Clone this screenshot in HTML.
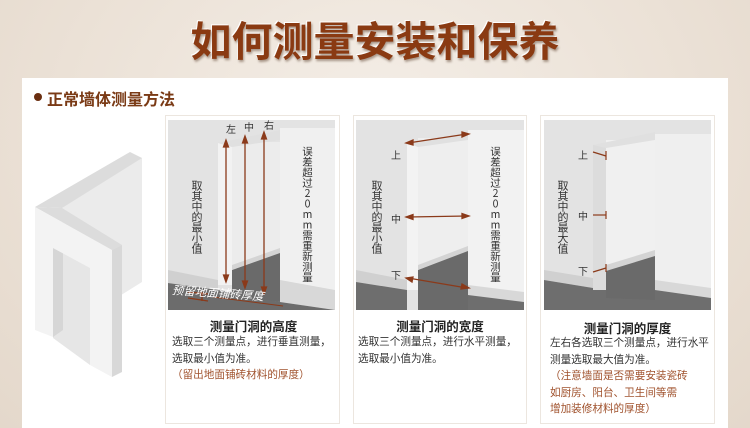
<!DOCTYPE html>
<html><head><meta charset="utf-8">
<style>
*{margin:0;padding:0;box-sizing:border-box}
body{width:750px;height:428px;overflow:hidden;position:relative;background:radial-gradient(ellipse at 50% 30%,#f4eee7 0%,#ebe1d6 60%,#e4d8cb 100%);font-family:"Liberation Sans","Noto Sans CJK SC",sans-serif}
.title{position:absolute;left:0;width:750px;top:8px;text-align:center;font-size:41px;font-weight:bold;color:#8a3a12;letter-spacing:0px;text-shadow:1px 2px 2px rgba(80,50,30,.45),-1px -1px 0 #fff;font-family:"Noto Sans CJK SC",sans-serif}
.panel{position:absolute;left:22px;top:78px;width:706px;height:350px;background:#fff}
.sec{position:absolute;left:47px;top:86px;font-size:16px;font-weight:bold;color:#7a3a15;font-family:"Noto Sans CJK SC",sans-serif}
.dot{position:absolute;left:34px;top:93px;width:8px;height:8px;border-radius:50%;background:#6a2e10}
.card{position:absolute;top:115px;height:309px;border:1px solid #ece6df;background:#fff}
.abs{position:absolute}
.v{position:absolute;writing-mode:vertical-rl;text-orientation:upright;font-size:11px;color:#333;line-height:12px;letter-spacing:-0.5px;font-family:"Noto Sans CJK SC",sans-serif}
.v2{position:absolute;writing-mode:vertical-rl;text-orientation:upright;font-size:10.5px;color:#333;line-height:12px;letter-spacing:0;font-family:"Noto Sans CJK SC",sans-serif}
.lab{position:absolute;font-size:10px;color:#333;font-family:"Noto Sans CJK SC",sans-serif}
.h{position:absolute;font-size:12.5px;font-weight:bold;color:#222;text-align:center;font-family:"Noto Sans CJK SC",sans-serif}
.b{position:absolute;font-size:10.6px;color:#333;line-height:16.5px;font-family:"Noto Sans CJK SC",sans-serif;white-space:nowrap}
.br{color:#a0522d}
</style></head><body>
<div class="title">如何测量安装和保养</div>
<div class="panel"></div>
<div class="dot"></div>
<div class="sec">正常墙体测量方法</div>

<svg class="abs" style="left:0;top:0" width="170" height="428">
<polygon points="62,208 130,158 142,158 142,282 62,332" fill="#ebebeb"/>
<polygon points="53,248 90,268 90,365 53,338" fill="#e6e6e6"/>
<polygon points="53,248 63,252 63,330 53,337" fill="#d6d6d6"/>
<polygon points="35,207 130,152 142,158 62,208" fill="#dcdcdc"/>
<polygon points="35,207 62,208 122,245 112,250" fill="#dcdcdc"/>
<polygon points="35,207 112,250 112,377 90,365 90,268 53,248 53,337 35,330" fill="#f3f3f3"/>
<polygon points="112,250 122,245 122,372 112,377" fill="#d8d8d8"/>
</svg>

<div class="card" style="left:165px;width:175px"></div>
<div class="card" style="left:353px;width:174px"></div>
<div class="card" style="left:540px;width:175px"></div>

<!-- card1 image -->
<svg class="abs" style="left:168px;top:120px" width="167" height="190">
<rect width="167" height="190" fill="#e3e3e3"/>
<polygon points="0,150 50,160 50,170 0,163" fill="#d0d0d0"/>
<polygon points="0,163 50,170 112,182 167,190 0,190" fill="#6e6e6e"/>
<rect x="64" y="22" width="48" height="140" fill="#ececec"/>
<polygon points="64,150 112,132 112,182 64,175" fill="#6a6a6a"/>
<polygon points="64,145 112,128 112,133 64,150" fill="#d4d4d4"/>
<rect x="50" y="23" width="14" height="142" fill="#f2f2f2"/>
<polygon points="50,23 112,10 112,20 64,27" fill="#e0e0e0"/>
<rect x="112" y="8" width="55" height="182" fill="#f0f0f0"/>
<polygon points="112,160 167,170 167,190 112,182" fill="#d8d8d8"/>
<polygon points="0,168 112,182 167,190 0,190" fill="#6c6c6c"/>
<g stroke="#8b3a1a" stroke-width="1.3" fill="#8b3a1a">
<line x1="58" y1="22" x2="58" y2="160"/><line x1="77" y1="18" x2="77" y2="166"/><line x1="96" y1="14" x2="96" y2="172"/>
<polygon points="58,20 55.5,27 60.5,27"/><polygon points="77,16 74.5,23 79.5,23"/><polygon points="96,12 93.5,19 98.5,19"/>
<polygon points="58,162 55.5,155 60.5,155"/><polygon points="77,168 74.5,161 79.5,161"/><polygon points="96,174 93.5,167 98.5,167"/>
<line x1="20" y1="172" x2="40" y2="174"/><line x1="20" y1="178" x2="40" y2="181"/><line x1="34" y1="172" x2="34" y2="181"/>
<line x1="45" y1="177" x2="115" y2="186" stroke-width="1"/>
</g>
</svg>
<div class="lab" style="left:226px;top:121px">左</div>
<div class="lab" style="left:244px;top:119px">中</div>
<div class="lab" style="left:264px;top:117px">右</div>
<div class="v" style="left:191px;top:180px">取其中的最小值</div>
<div class="v2" style="left:301px;top:146px">误差超过20mm需重新测量</div>
<div class="abs" style="left:172px;top:282px;font-size:11.5px;color:#fff;transform:rotate(4deg);transform-origin:left;font-family:'Noto Sans CJK SC',sans-serif;font-style:italic">预留地面铺砖厚度</div>

<!-- card2 image -->
<svg class="abs" style="left:356px;top:120px" width="168" height="190">
<rect width="168" height="190" fill="#e3e3e3"/>
<polygon points="0,150 51,160 51,170 0,162" fill="#d0d0d0"/>
<polygon points="0,162 51,170 51,190 0,190" fill="#6e6e6e"/>
<rect x="62" y="18" width="50" height="172" fill="#eeeeee"/>
<polygon points="62,150 112,130 112,190 62,190" fill="#6a6a6a"/>
<polygon points="62,145 112,126 112,131 62,150" fill="#d4d4d4"/>
<rect x="51" y="23" width="11" height="147" fill="#f3f3f3"/>
<polygon points="51,23 112,12 112,20 62,27" fill="#e0e0e0"/>
<rect x="112" y="10" width="56" height="165" fill="#f2f2f2"/>
<polygon points="112,165 168,172 168,182 112,175" fill="#d8d8d8"/>
<polygon points="112,175 168,182 168,190 112,190" fill="#6e6e6e"/>
<g stroke="#8b3a1a" stroke-width="1.3" fill="#8b3a1a">
<line x1="52" y1="23" x2="111" y2="14"/><polygon points="50,23 57,20 57,25"/><polygon points="113,14 106,12 106,17"/>
<line x1="52" y1="97" x2="111" y2="96"/><polygon points="50,97 57,94.5 57,99.5"/><polygon points="113,96 106,93.5 106,98.5"/>
<line x1="52" y1="158" x2="111" y2="168"/><polygon points="50,158 57,157 56,162"/><polygon points="113,168 106,164 105,169"/>
</g>
</svg>
<div class="lab" style="left:391px;top:147px">上</div>
<div class="lab" style="left:391px;top:211px">中</div>
<div class="lab" style="left:391px;top:267px">下</div>
<div class="v" style="left:371px;top:180px">取其中的最小值</div>
<div class="v2" style="left:489px;top:146px">误差超过20mm需重新测量</div>

<!-- card3 image -->
<svg class="abs" style="left:544px;top:120px" width="167" height="190">
<rect width="167" height="190" fill="#e3e3e3"/>
<polygon points="0,150 49,158 49,168 0,160" fill="#d0d0d0"/>
<polygon points="0,160 49,168 167,175 167,190 0,190" fill="#6e6e6e"/>
<rect x="62" y="20" width="49" height="135" fill="#f0f0f0"/>
<polygon points="62,150 111,135 111,180 62,178" fill="#6a6a6a"/>
<polygon points="62,145 111,130 111,136 62,151" fill="#d4d4d4"/>
<rect x="49" y="25" width="13" height="145" fill="#dcdcdc"/>
<polygon points="49,25 111,12 111,20 62,28" fill="#e0e0e0"/>
<rect x="111" y="14" width="56" height="166" fill="#efefef"/>
<polygon points="111,160 167,168 167,178 111,170" fill="#d8d8d8"/>
<polygon points="111,170 167,178 167,190 111,190" fill="#6e6e6e"/>
<g stroke="#8b3a1a" stroke-width="1.2">
<line x1="49" y1="32" x2="62" y2="36"/><line x1="62" y1="31" x2="62" y2="40"/>
<line x1="49" y1="95" x2="62" y2="95"/><line x1="62" y1="91" x2="62" y2="99"/>
<line x1="49" y1="152" x2="62" y2="148"/><line x1="62" y1="144" x2="62" y2="152"/>
</g>
</svg>
<div class="lab" style="left:578px;top:147px">上</div>
<div class="lab" style="left:578px;top:208px">中</div>
<div class="lab" style="left:578px;top:263px">下</div>
<div class="v" style="left:557px;top:180px">取其中的最大值</div>

<div class="h" style="left:166px;width:175px;top:316px">测量门洞的高度</div>
<div class="b" style="left:172px;top:334px">选取三个测量点，进行垂直测量，<br>选取最小值为准。<br><span class="br">（留出地面铺砖材料的厚度）</span></div>
<div class="h" style="left:353px;width:174px;top:316px">测量门洞的宽度</div>
<div class="b" style="left:358px;top:334px">选取三个测量点，进行水平测量，<br>选取最小值为准。</div>
<div class="h" style="left:540px;width:175px;top:318px">测量门洞的厚度</div>
<div class="b" style="left:550px;top:335px">左右各选取三个测量点，进行水平<br>测量选取最大值为准。<br><span class="br">（注意墙面是否需要安装瓷砖<br>如厨房、阳台、卫生间等需<br>增加装修材料的厚度）</span></div>
</body></html>
